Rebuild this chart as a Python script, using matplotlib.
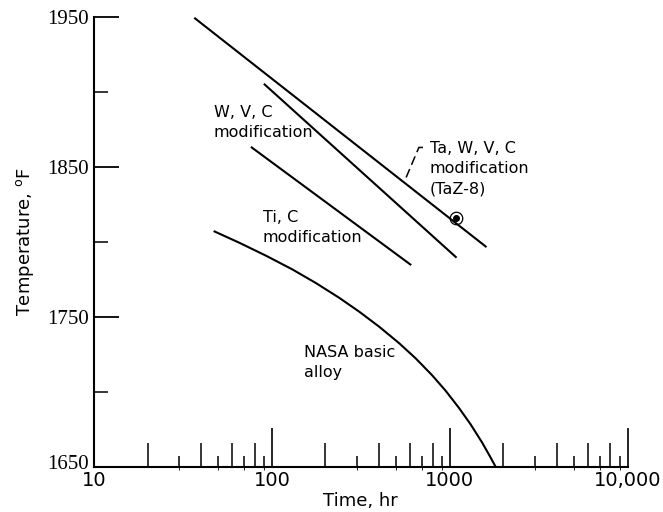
import numpy as np
import matplotlib.pyplot as plt
import matplotlib.transforms as mtransforms
from matplotlib.ticker import FixedLocator, NullFormatter

# Ta, W, V, C modification (TaZ-8)
taz8_t = [37, 1590]
taz8_T = [1949, 1797]
# W, V, C modification
wvc_t = [91, 1080]
wvc_T = [1905, 1790]
# Ti, C modification
tic_t = [77, 600]
tic_T = [1863, 1785]
# NASA basic alloy
nasa_t = [47.6, 65.8, 92.8, 130.8, 176.8, 238.8, 309, 400, 518, 643, 796,
          946, 1122, 1306, 1517, 1690, 1811]
nasa_T = [1807, 1799.4, 1790.8, 1781.6, 1772.6, 1762.8, 1753.6, 1743.6, 1732.6,
          1722.4, 1711.1, 1700.9, 1689.6, 1678.6, 1666.4, 1656.6, 1650]
# single data point on the TaZ-8 line
pt_t = [1080]
pt_T = [1816]

fig = plt.figure(figsize=(6.63, 5.12), dpi=100)
ax = fig.add_axes([0.1418, 0.0879, 0.805, 0.879])

for t, T in [(taz8_t, taz8_T), (wvc_t, wvc_T), (tic_t, tic_T), (nasa_t, nasa_T)]:
    ax.plot(t, T, color='black', lw=1.5)
ax.plot(pt_t, pt_T, 'o', ms=4, color='black')
ax.plot(pt_t, pt_T, 'o', ms=9, mfc='none', mec='black', mew=0.9)

ax.set_xscale('log')
ax.set_xlim(10, 10000)
ax.set_ylim(1650, 1950)

ax.spines['top'].set_visible(False)
ax.spines['right'].set_visible(False)
for s in ['left', 'bottom']:
    ax.spines[s].set_linewidth(1.5)

# y ticks
ax.yaxis.set_major_locator(FixedLocator([1650, 1750, 1850, 1950]))
ax.yaxis.set_minor_locator(FixedLocator([1700, 1800, 1900]))
ax.tick_params(axis='y', which='major', direction='in', length=18, width=1.3, pad=4)
ax.tick_params(axis='y', which='minor', direction='in', length=10, width=1.1)
ylabs = ax.get_yticklabels()
for lab in ylabs:
    lab.set_fontfamily('Liberation Serif')
    lab.set_fontsize(15)
# bottom label sits a little above the axis line
ylabs[0].set_transform(ylabs[0].get_transform() +
                       mtransforms.ScaledTranslation(0, 5 / 100, fig.dpi_scale_trans))

# x ticks
ax.xaxis.set_major_locator(FixedLocator([10, 100, 1000, 10000]))
ax.set_xticklabels(['10', '100', '1000', '10,000'], fontsize=14)
odd = [m * 10 ** d for d in range(1, 4) for m in (3, 5, 7, 9)]
even = [m * 10 ** d for d in range(1, 4) for m in (2, 4, 6, 8)]
ax.xaxis.set_minor_locator(FixedLocator(odd))
ax.xaxis.set_minor_formatter(NullFormatter())
ax.tick_params(axis='x', which='major', direction='in', length=28, width=1.2, pad=3)
ax.tick_params(axis='x', which='minor', direction='in', length=8, width=1.1)
sec = ax.secondary_xaxis('bottom')
sec.set_xticks(even)
sec.set_xticklabels([])
sec.tick_params(axis='x', direction='in', length=17, width=1.1)
sec.spines['bottom'].set_visible(False)

ax.set_xlabel('Time, hr', fontsize=13, labelpad=1)
ax.set_ylabel('Temperature, $^{\\mathrm{o}}$F', fontsize=13, labelpad=8)

fs = 11.5
ls = 1.4
ax.text(47, 1891, 'W, V, C\nmodification', fontsize=fs, va='top', linespacing=ls)
ax.text(89, 1821, 'Ti, C\nmodification', fontsize=fs, va='top', linespacing=ls)
ax.text(152, 1731, 'NASA basic\nalloy', fontsize=fs, va='top', linespacing=ls)
ax.text(770, 1867, 'Ta, W, V, C\nmodification\n(TaZ-8)', fontsize=fs, va='top', linespacing=ls)
ax.plot([568, 670, 745], [1843, 1863, 1863], color='black', lw=1.1, ls=(0, (6, 3)))

fig.savefig('out.png', dpi=100)
